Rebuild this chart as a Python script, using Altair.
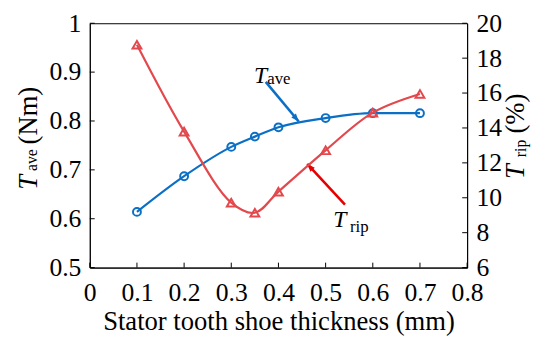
import altair as alt
import pandas as pd

# ---- data ----
thickness = [0.1, 0.2, 0.3, 0.35, 0.4, 0.5, 0.6, 0.7]
t_ave = [0.614, 0.687, 0.747, 0.768, 0.787, 0.806, 0.816, 0.816]
t_rip = [18.77, 13.79, 9.72, 9.14, 10.35, 12.72, 14.88, 15.95]

x_ticks = [0, 0.1, 0.2, 0.3, 0.4, 0.5, 0.6, 0.7, 0.8]
left_ticks = [0.5, 0.6, 0.7, 0.8, 0.9, 1.0]
right_ticks = [6, 8, 10, 12, 14, 16, 18, 20]

df = pd.DataFrame({"x": thickness, "tave": t_ave, "trip": t_rip})
one = pd.DataFrame({"k": [0]})
xt_df = pd.DataFrame({"v": x_ticks})
lt_df = pd.DataFrame({"v": left_ticks})
rt_df = pd.DataFrame({"v": right_ticks})

W, H = 383, 248
BLUE = "#0b6fc6"
RED = "#e2484c"
ARROW_RED = "#e60000"
SERIF = "Liberation Serif"
TICK = 5

xs = alt.Scale(domain=[0, 0.8], nice=False, zero=False)
ys_l = alt.Scale(domain=[0.5, 1.0], nice=False, zero=False)
ys_r = alt.Scale(domain=[6, 20], nice=False, zero=False)

common = dict(format="~g", tickSize=0, grid=False, labelOverlap=False, labelFlush=False,
              labelFont=SERIF, labelFontSize=26, labelColor="black")
x_main = alt.Axis(orient="bottom", values=x_ticks, labelPadding=12,
                  title="Stator tooth shoe thickness (mm)", titleFont=SERIF,
                  titleFontSize=27, titleFontWeight="normal", titleColor="black",
                  titlePadding=4, **common)
yl_main = alt.Axis(orient="left", values=left_ticks, labelPadding=9, title=None, **common)
yr_main = alt.Axis(orient="right", values=right_ticks, labelPadding=9, title=None, **common)

base = alt.Chart(df)

ave_line = base.mark_line(color=BLUE, strokeWidth=2.2, interpolate="monotone").encode(
    x=alt.X("x:Q", scale=xs, axis=x_main),
    y=alt.Y("tave:Q", scale=ys_l, axis=yl_main),
)
ave_pts = base.mark_point(shape="circle", color=BLUE, filled=False, size=64,
                          strokeWidth=2, opacity=1).encode(
    x=alt.X("x:Q", scale=xs, axis=None),
    y=alt.Y("tave:Q", scale=ys_l, axis=None),
)

# inward ticks
x_tick_marks = alt.Chart(xt_df).mark_rule(color="black", strokeWidth=1).encode(
    x=alt.X("v:Q", scale=xs, axis=None), y=alt.value(H), y2=alt.value(H - TICK))
l_tick_marks = alt.Chart(lt_df).mark_rule(color="black", strokeWidth=1).encode(
    y=alt.Y("v:Q", scale=ys_l, axis=None), x=alt.value(0), x2=alt.value(TICK))


def arrow(x0, y0, x1, y1, ang, color):
    c = alt.Chart(one)
    r = c.mark_rule(color=color, strokeWidth=2.6).encode(
        x=alt.X(datum=x0, scale=xs, axis=None), y=alt.Y(datum=y0, scale=ys_l, axis=None),
        x2=alt.X2(datum=x1), y2=alt.Y2(datum=y1))
    h = c.mark_point(shape="M0,0L0.38,1L-0.38,1Z", filled=True, color=color,
                     size=256, angle=ang, opacity=1, strokeWidth=0).encode(
        x=alt.X(datum=x1, scale=xs, axis=None), y=alt.Y(datum=y1, scale=ys_l, axis=None))
    return [r, h]


def label(x0, y0, main, sub, dx, dy):
    c = alt.Chart(one)
    t1 = c.mark_text(font=SERIF, fontSize=24, fontStyle="italic", align="left",
                     baseline="alphabetic", color="black").encode(
        x=alt.X(datum=x0, scale=xs, axis=None), y=alt.Y(datum=y0, scale=ys_l, axis=None),
        text=alt.value(main))
    t2 = c.mark_text(font=SERIF, fontSize=17, align="left", baseline="alphabetic",
                     dx=dx, dy=dy, color="black").encode(
        x=alt.X(datum=x0, scale=xs, axis=None), y=alt.Y(datum=y0, scale=ys_l, axis=None),
        text=alt.value(sub))
    return [t1, t2]


def vtitle(px, py, txt, size, italic=False):
    kw = dict(fontStyle="italic") if italic else {}
    return alt.Chart(one).mark_text(font=SERIF, fontSize=size, angle=270, align="left",
                                    baseline="alphabetic", color="black", **kw).encode(
        x=alt.value(px), y=alt.value(py), text=alt.value(txt))


annos = []
annos += arrow(0.373, 0.880, 0.443, 0.799, 139.8, BLUE)
annos += arrow(0.541, 0.629, 0.461, 0.712, 317, ARROW_RED)
annos += label(0.348, 0.8776, "T", "ave", 13.5, 1)
annos += label(0.516, 0.5827, "T", "rip", 17, 4.7)
annos += [
    vtitle(-54, 169, "T", 27, True), vtitle(-54, 150, "ave", 16), vtitle(-54, 123, "(Nm)", 27),
    vtitle(441, 158, "T", 27, True), vtitle(443, 136, "rip", 16), vtitle(441, 112, "(%)", 27),
]

left = alt.layer(ave_line, ave_pts, x_tick_marks, l_tick_marks, *annos).resolve_axis(
    x="independent", y="independent")

rip_line = base.mark_line(color=RED, strokeWidth=2.2, interpolate="catmull-rom").encode(
    x=alt.X("x:Q", scale=xs, axis=None),
    y=alt.Y("trip:Q", scale=ys_r, axis=yr_main),
)
rip_pts = base.mark_point(shape="triangle-up", color=RED, filled=False, size=80,
                          strokeWidth=2, opacity=1).encode(
    x=alt.X("x:Q", scale=xs, axis=None),
    y=alt.Y("trip:Q", scale=ys_r, axis=None),
)
r_tick_marks = alt.Chart(rt_df).mark_rule(color="black", strokeWidth=1).encode(
    y=alt.Y("v:Q", scale=ys_r, axis=None), x=alt.value(W), x2=alt.value(W - TICK))
right = alt.layer(rip_line, rip_pts, r_tick_marks).resolve_axis(
    x="independent", y="independent")

chart = alt.layer(left, right).resolve_scale(y="independent").resolve_axis(
    x="independent", y="independent"
).properties(
    width=W, height=H,
    autosize=alt.AutoSizeParams(type="none"),
    padding={"left": 83, "top": 13, "right": 76, "bottom": 70},
).configure_view(stroke="black", strokeWidth=1).configure_axis(
    labelFont=SERIF, labelFontSize=26, labelColor="black", tickColor="black",
    domainColor="black", domainWidth=1, tickWidth=1,
)

chart.save("out.html", embed_options={"renderer": "svg", "actions": False})
